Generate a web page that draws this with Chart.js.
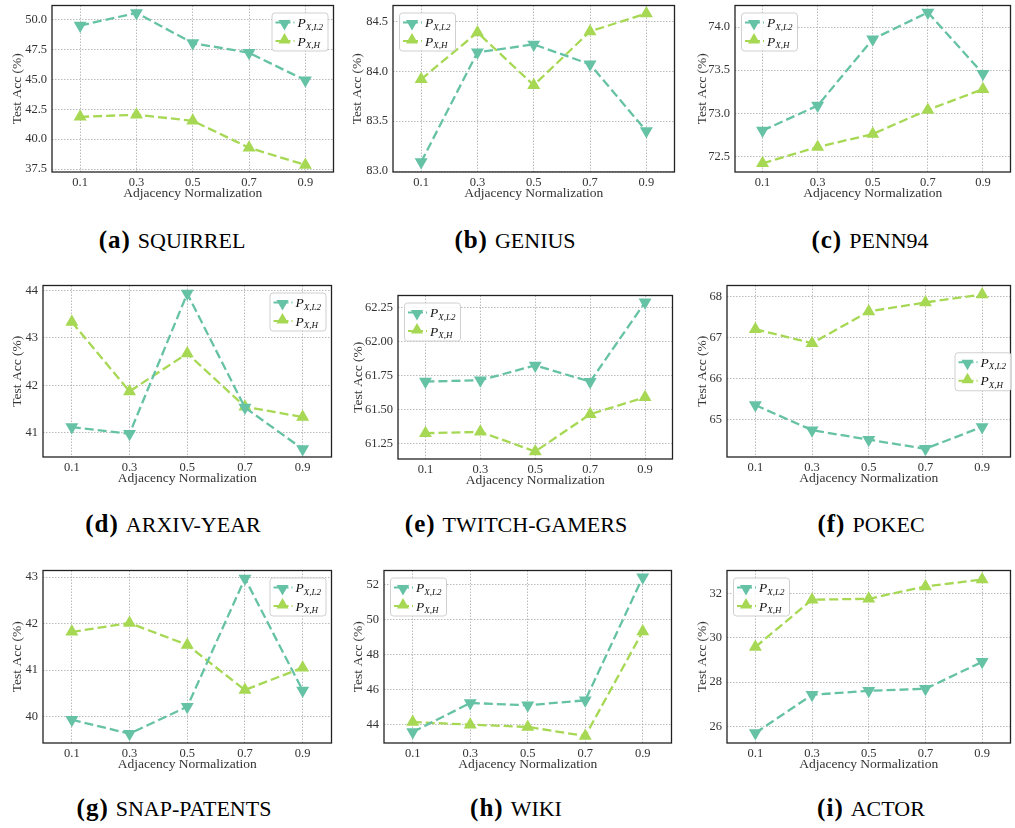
<!DOCTYPE html>
<html>
<head>
<meta charset="utf-8">
<script src="https://cdn.jsdelivr.net/npm/chart.js@4.4.1/dist/chart.umd.min.js"></script>
<style>
  body { margin: 0; width: 1015px; height: 828px; overflow: hidden; background: #fff; position: relative; }
  canvas { position: absolute; }
  .cap { position: absolute; transform: translate(-50%, -50%); white-space: nowrap; font-family: "Liberation Serif", "Times New Roman", Times, serif; font-size: 22px; color: #000; }
  .cap b { font-family: "Liberation Serif", "Times New Roman", Times, serif; font-size: 25px; letter-spacing: 1px; margin-right: 7px; }
</style>
</head>
<body>
<script>
// x axis (shared)
const xValues = [0.1, 0.3, 0.5, 0.7, 0.9];
const xTickLabels = ['0.1', '0.3', '0.5', '0.7', '0.9'];
const seriesSubs = ['X,L2', 'X,H'];

// (a) squirrel
const squirrelL2 = [49.52, 50.58, 48.05, 47.24, 44.93];
const squirrelH = [41.87, 42.05, 41.54, 39.28, 37.84];
const squirrelTicks = ['37.5', '40.0', '42.5', '45.0', '47.5', '50.0'];
const squirrelRange = [37.25, 51.2];

// (b) genius
const geniusL2 = [83.09, 84.19, 84.27, 84.07, 83.40];
const geniusH = [83.92, 84.39, 83.86, 84.40, 84.58];
const geniusTicks = ['83.0', '83.5', '84.0', '84.5'];
const geniusRange = [82.99, 84.66];

// (c) penn94
const pennL2 = [72.80, 73.09, 73.86, 74.17, 73.46];
const pennH = [72.42, 72.61, 72.76, 73.04, 73.28];
const pennTicks = ['72.5', '73.0', '73.5', '74.0'];
const pennRange = [72.32, 74.25];

// (d) arxiv-year
const arxivL2 = [41.12, 40.98, 43.93, 41.53, 40.66];
const arxivH = [43.33, 41.87, 42.67, 41.55, 41.33];
const arxivTicks = ['41', '42', '43', '44'];
const arxivRange = [40.49, 44.1];

// (e) twitch-gamers
const twitchL2 = [61.706, 61.715, 61.825, 61.705, 62.29];
const twitchH = [61.325, 61.335, 61.19, 61.465, 61.59];
const twitchTicks = ['61.25', '61.50', '61.75', '62.00', '62.25'];
const twitchRange = [61.135, 62.34];

// (f) pokec
const pokecL2 = [65.36, 64.75, 64.52, 64.30, 64.83];
const pokecH = [67.20, 66.86, 67.63, 67.85, 68.04];
const pokecTicks = ['65', '66', '67', '68'];
const pokecRange = [64.10, 68.26];

// (g) snap-patents
const snapL2 = [39.93, 39.63, 40.21, 42.97, 40.56];
const snapH = [41.82, 42.01, 41.54, 40.57, 41.05];
const snapTicks = ['40', '41', '42', '43'];
const snapRange = [39.43, 43.14];

// (h) wiki
const wikiL2 = [43.56, 45.22, 45.09, 45.37, 52.42];
const wikiH = [44.13, 43.98, 43.85, 43.33, 49.31];
const wikiTicks = ['44', '46', '48', '50', '52'];
const wikiRange = [42.93, 52.8];

// (i) actor
const actorL2 = [25.70, 27.43, 27.61, 27.70, 28.92];
const actorH = [29.59, 31.73, 31.77, 32.33, 32.64];
const actorTicks = ['26', '28', '30', '32'];
const actorRange = [25.25, 33.05];

const colorL2 = '#66c2a5';
const colorH = '#a6d854';

// panels: plot area rect on page [left, top, right, bottom], gap = axis-to-ytitle distance
const panels = [
  { tag: 'a', name: 'SQUIRREL', l2: squirrelL2, h: squirrelH, ticks: squirrelTicks, range: squirrelRange, rect: [52, 5, 337, 172], gap: 35, legend: 'ur', cap: [172, 240] },
  { tag: 'b', name: 'GENIUS', l2: geniusL2, h: geniusH, ticks: geniusTicks, range: geniusRange, rect: [393, 5, 678, 172], gap: 36, legend: 'ul', cap: [515, 240] },
  { tag: 'c', name: 'PENN94', l2: pennL2, h: pennH, ticks: pennTicks, range: pennRange, rect: [735, 5, 1014, 172], gap: 33, legend: 'ul', cap: [870, 240] },
  { tag: 'd', name: 'ARXIV-YEAR', l2: arxivL2, h: arxivH, ticks: arxivTicks, range: arxivRange, rect: [43, 285, 335, 457], gap: 26, legend: 'ur', cap: [173, 524] },
  { tag: 'e', name: 'TWITCH-GAMERS', l2: twitchL2, h: twitchH, ticks: twitchTicks, range: twitchRange, rect: [398, 295, 676, 459], gap: 40, legend: 'ul', cap: [516, 524] },
  { tag: 'f', name: 'POKEC', l2: pokecL2, h: pokecH, ticks: pokecTicks, range: pokecRange, rect: [727, 285, 1014, 457], gap: 25, legend: 'cr', cap: [871, 524] },
  { tag: 'g', name: 'SNAP-PATENTS', l2: snapL2, h: snapH, ticks: snapTicks, range: snapRange, rect: [43, 570, 335, 743], gap: 26, legend: 'ur', cap: [174, 808] },
  { tag: 'h', name: 'WIKI', l2: wikiL2, h: wikiH, ticks: wikiTicks, range: wikiRange, rect: [384, 570, 675, 743], gap: 26, legend: 'ul', cap: [516, 808] },
  { tag: 'i', name: 'ACTOR', l2: actorL2, h: actorH, ticks: actorTicks, range: actorRange, rect: [727, 570, 1014, 743], gap: 25, legend: 'ul', cap: [871, 808] }
];

const SERIF = '"Liberation Serif", "Times New Roman", Times, serif';
Chart.defaults.font.family = SERIF;
Chart.defaults.color = '#333';

const PAD_TOP = 12;
const PAD_RIGHT = 4;
const X_AXIS_H = 32;

function triangle(ctx, x, y, r, down) {
  const s = down ? -1 : 1;
  ctx.beginPath();
  ctx.moveTo(x, y - s * r);
  ctx.lineTo(x + r * 0.866, y + s * r * 0.5);
  ctx.lineTo(x - r * 0.866, y + s * r * 0.5);
  ctx.closePath();
  ctx.fill();
}

// Rahmen wie bei matplotlib
const framePlugin = {
  id: 'frame',
  afterDatasetsDraw(chart) {
    const { ctx, chartArea: ca } = chart;
    ctx.save();
    ctx.strokeStyle = '#222';
    ctx.lineWidth = 1.3;
    ctx.strokeRect(ca.left, ca.top, ca.right - ca.left, ca.bottom - ca.top);
    ctx.restore();
  }
};

// Legende mit Index-Text
const legendPlugin = {
  id: 'mplLegend',
  afterDraw(chart, args, opts) {
    const { ctx, chartArea: ca } = chart;
    const w = 56, h = 38;
    let x, y;
    if (opts.pos === 'ur') { x = ca.right - 6 - w; y = ca.top + 7; }
    else if (opts.pos === 'ul') { x = ca.left + 6; y = ca.top + 7; }
    else { x = ca.right - w; y = (ca.top + ca.bottom) / 2 - h / 2; }
    ctx.save();
    ctx.beginPath();
    ctx.roundRect(x + 0.5, y + 0.5, w, h, 3);
    ctx.fillStyle = 'rgba(255,255,255,0.85)';
    ctx.fill();
    ctx.strokeStyle = '#d0d0d0';
    ctx.lineWidth = 1;
    ctx.stroke();
    chart.data.datasets.forEach((ds, i) => {
      const cy = y + 10 + i * 18.5;
      ctx.strokeStyle = ds.borderColor;
      ctx.lineWidth = 2.2;
      ctx.setLineDash([6, 3]);
      ctx.beginPath();
      ctx.moveTo(x + 4, cy);
      ctx.lineTo(x + 23, cy);
      ctx.stroke();
      ctx.setLineDash([]);
      ctx.fillStyle = ds.borderColor;
      triangle(ctx, x + 13, cy + (i === 0 ? 1 : -1), 7, i === 0);
      ctx.fillStyle = '#111';
      ctx.textBaseline = 'alphabetic';
      ctx.font = 'italic 13.5px ' + SERIF;
      ctx.fillText('P', x + 26, cy + 4.5);
      const pw = ctx.measureText('P').width;
      ctx.font = 'italic 9px ' + SERIF;
      ctx.fillText(seriesSubs[i], x + 26 + pw, cy + 7);
    });
    ctx.restore();
  }
};

panels.forEach(p => {
  const [L, T, R, B] = p.rect;
  const yW = p.gap + 11;
  const cv = document.createElement('canvas');
  cv.width = yW + (R - L) + PAD_RIGHT;
  cv.height = PAD_TOP + (B - T) + X_AXIS_H;
  cv.style.left = (L - yW) + 'px';
  cv.style.top = (T - PAD_TOP) + 'px';
  document.body.appendChild(cv);

  const mk = (vals, color, down) => ({
    data: xValues.map((x, i) => ({ x: x, y: vals[i] })),
    borderColor: color,
    backgroundColor: color,
    borderWidth: 2.3,
    borderDash: [9, 4],
    pointStyle: 'triangle',
    pointRotation: down ? 180 : 0,
    pointRadius: 7.5,
    pointBorderWidth: 0,
    tension: 0
  });

  new Chart(cv, {
    type: 'line',
    data: { datasets: [mk(p.l2, colorL2, true), mk(p.h, colorH, false)] },
    options: {
      responsive: false,
      animation: false,
      devicePixelRatio: 1,
      layout: { padding: { top: PAD_TOP, right: PAD_RIGHT, left: 0, bottom: 0 } },
      plugins: { legend: { display: false }, tooltip: { enabled: false }, mplLegend: { pos: p.legend } },
      scales: {
        x: {
          type: 'linear', min: 0, max: 1,
          afterBuildTicks: s => { s.ticks = xValues.map(v => ({ value: v })); },
          afterFit: s => { s.height = X_AXIS_H; },
          ticks: { callback: (v, i) => xTickLabels[i], font: { size: 12.5 }, padding: 3, maxRotation: 0 },
          grid: { color: '#aaaaaa', lineWidth: 0.8, drawTicks: false },
          border: { display: false, dash: [1.5, 1.5] },
          title: { display: true, text: 'Adjacency Normalization', font: { size: 13.5 }, padding: { top: 0, bottom: 2 } }
        },
        y: {
          type: 'linear', min: p.range[0], max: p.range[1],
          afterBuildTicks: s => { s.ticks = p.ticks.map(t => ({ value: parseFloat(t) })); },
          afterFit: s => { s.width = yW; },
          ticks: { callback: (v, i) => p.ticks[i], font: { size: 12.5 }, padding: 5 },
          grid: { color: '#aaaaaa', lineWidth: 0.8, drawTicks: false },
          border: { display: false, dash: [1.5, 1.5] },
          title: { display: true, text: 'Test Acc (%)', font: { size: 13.5 }, padding: { top: 3, bottom: 0 } }
        }
      }
    },
    plugins: [framePlugin, legendPlugin]
  });

  const cap = document.createElement('div');
  cap.className = 'cap';
  cap.style.left = p.cap[0] + 'px';
  cap.style.top = p.cap[1] + 'px';
  cap.innerHTML = '<b>(' + p.tag + ')</b>' + p.name;
  document.body.appendChild(cap);
});
</script>
</body>
</html>
